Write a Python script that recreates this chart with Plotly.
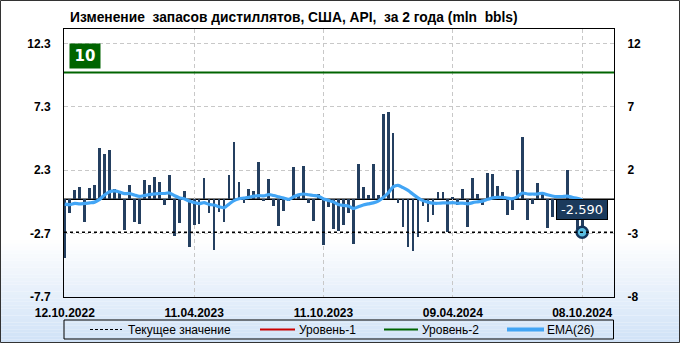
import plotly.graph_objects as go

# ---------------- data ----------------
tick_positions = [0, 26, 52, 78, 104]
tick_dates = ["12.10.2022", "11.04.2023", "11.10.2023", "09.04.2024", "08.10.2024"]

changes = [
    -4.6, -1.1, 0.7, 0.94, -1.8, 0.86, 1.17, 4.06, 3.6, 3.9,
    0.83, 0.47, -2.45, 1.17, -1.8, -1.98, 1.56, 1.17, 1.8, 1.4,
    -0.42, 1.95, -2.9, -1.88, 0.62, -3.78, -2.06, -1.98, 1.72, -1.04,
    -4.0, -0.96, -1.8, 1.9, 4.53, 1.4, -0.31, 0.78, 0.62, 2.97,
    -0.16, 1.64, -0.55, -2.14, -0.89, -0.16, 2.53, 0.39, 2.66, -0.31,
    -1.74, 0.39, -3.62, -0.62, -2.37, -2.53, -2.06, -1.04, -3.54, 2.81,
    0.94, 0.31, 2.81, 0.31, 6.72, 6.88, 5.23, -0.31, -2.21, -3.78,
    -4.09, -3.0, -0.55, -1.8, -1.2, 0.55, 0.55, -2.6, 0.16, -0.47,
    0.78, -2.21, 1.72, 0.39, -0.42, 2.11, 2.03, 1.02, 0.55, -1.2,
    -0.81, 2.34, 4.92, -1.59, -0.39, 1.25, 0.55, -2.29, -1.43, -0.47,
    -0.9, 2.34, -0.6, -2.3, -2.59,
]

ema26 = [
    -0.38, -0.42, -0.32, -0.36, -0.32, -0.28, -0.22, 0.0, 0.35, 0.6,
    0.66, 0.58, 0.45, 0.46, 0.34, 0.24, 0.3, 0.38, 0.42, 0.46,
    0.46, 0.5, 0.3, 0.12, 0.05, -0.14, -0.25, -0.34, -0.26, -0.4,
    -0.45, -0.58, -0.66, -0.38, -0.1, 0.05, 0.1, 0.16, 0.25, 0.3,
    0.27, 0.38, 0.3, 0.2, 0.1, 0.0, 0.2, 0.35, 0.42, 0.36,
    0.3, 0.24, 0.03, -0.08, -0.2, -0.4, -0.48, -0.52, -0.72, -0.58,
    -0.44, -0.36, -0.28, -0.14, 0.15, 0.5, 0.98, 1.1, 0.92, 0.7,
    0.4, 0.12, -0.1, -0.22, -0.3, -0.31, -0.28, -0.29, -0.26, -0.31,
    -0.3, -0.35, -0.26, -0.2, -0.14, 0.0, 0.12, 0.16, 0.16, 0.1,
    0.05, 0.22, 0.5, 0.42, 0.42, 0.42, 0.48, 0.36, 0.26, 0.21,
    0.22, 0.25, 0.16, 0.08, -0.03,
]

level2 = 10
left_ticks = [-7.7, -2.7, 2.3, 7.3, 12.3]
left_labels = ["-7.7", "-2.7", "2.3", "7.3", "12.3"]
right_labels = ["-8", "-3", "2", "7", "12"]

title_text = "Изменение  запасов дистиллятов, США, API,  за 2 года (mln  bbls)"
legend_names = ["Текущее значение", "Уровень-1", "Уровень-2", "EMA(26)"]

# ---------------- layout geometry ----------------
W, H = 680, 343
ML, MR, MT, MB = 64, 66, 29, 46
PW, PH = W - ML - MR, H - MT - MB


def px(x):
    return (x - ML) / PW


def py(y):
    return (H - MB - y) / PH


def bold(labels):
    return ["<b>" + s + "</b>" for s in labels]


x = list(range(len(changes)))
current = changes[-1]

BAR = "#243f60"
EMA_C = "#42a5f5"
GREEN = "#006400"
FONT = "Liberation Sans"

fig = go.Figure()

fig.add_trace(go.Bar(x=x, y=changes, width=0.55, marker=dict(color=BAR, line_width=0),
                     showlegend=False, hoverinfo="skip"))
fig.add_trace(go.Scatter(x=x, y=ema26, mode="lines",
                         line=dict(color=EMA_C, width=3.2, shape="spline", smoothing=0.8),
                         showlegend=False, hoverinfo="skip"))
fig.add_trace(go.Scatter(x=[x[-1]], y=[current], mode="markers",
                         marker=dict(size=11, color="#5bbde0",
                                     line=dict(color="#12355c", width=2.5)),
                         showlegend=False, hoverinfo="skip"))
# invisible trace for right axis
fig.add_trace(go.Scatter(x=[x[0]], y=[0], yaxis="y2", mode="markers",
                         marker=dict(opacity=0), showlegend=False, hoverinfo="skip"))

shapes = []
# background gradient (white -> light blue)
n = 30
y_start = 240
for k in range(n):
    y0 = y_start + (H - y_start) * k / n
    y1 = y_start + (H - y_start) * (k + 1) / n
    t = (k + 0.5) / n
    r = int(255 - (255 - 208) * t)
    g = int(255 - (255 - 226) * t)
    b = int(255 - (255 - 247) * t)
    shapes.append(dict(type="rect", xref="paper", yref="paper", layer="below",
                       x0=px(0), x1=px(W), y0=py(y1), y1=py(y0),
                       fillcolor=f"rgb({r},{g},{b})", line_width=0))
# outer frame
shapes.append(dict(type="rect", xref="paper", yref="paper", layer="above",
                   x0=px(0.5), x1=px(W - 0.5), y0=py(H - 0.5), y1=py(0.5),
                   line=dict(color="#333333", width=1)))
# zero line
shapes.append(dict(type="line", xref="paper", yref="y", x0=0, x1=1, y0=0, y1=0,
                   line=dict(color="black", width=1.5), layer="below"))
# current value dashed
shapes.append(dict(type="line", xref="paper", yref="y", x0=0, x1=1, y0=current, y1=current,
                   line=dict(color="black", width=1.5, dash="3px,3px")))
# level 2
shapes.append(dict(type="line", xref="paper", yref="y", x0=0, x1=1, y0=level2, y1=level2,
                   line=dict(color=GREEN, width=2)))

# legend box
LY0, LY1, LYC = 320, 339, 329.5
shapes.append(dict(type="rect", xref="paper", yref="paper",
                   x0=px(64), x1=px(613.5), y0=py(LY1), y1=py(LY0),
                   line=dict(color="black", width=1), fillcolor="rgba(0,0,0,0)"))
leg_items = [
    (90, 122, "black", 1, "3px,2px", 126),
    (260, 295, "#cc0000", 2, "solid", 297),
    (384, 418, GREEN, 2, "solid", 420),
    (507, 544, EMA_C, 4, "solid", 545),
]
annotations = []
for (a, b2, col, wd, ds, tx), name in zip(leg_items, legend_names):
    shapes.append(dict(type="line", xref="paper", yref="paper",
                       x0=px(a), x1=px(b2), y0=py(LYC), y1=py(LYC),
                       line=dict(color=col, width=wd, dash=ds)))
    annotations.append(dict(xref="paper", yref="paper", x=px(tx), y=py(LYC),
                            xanchor="left", yanchor="middle", showarrow=False,
                            text=name, font=dict(family=FONT, size=12, color="black")))

# title
annotations.append(dict(xref="paper", yref="paper", x=px(68), y=py(17),
                        xanchor="left", yanchor="middle", showarrow=False,
                        text="<b>" + title_text + "</b>",
                        font=dict(family=FONT, size=13.8, color="black")))
# level label
annotations.append(dict(xref="paper", yref="paper", x=px(69), y=py(43),
                        xanchor="left", yanchor="top", showarrow=False,
                        text="<b>%d</b>" % level2, bgcolor=GREEN, width=28, height=22,
                        font=dict(family="DejaVu Sans", size=15, color="white")))
# current value label
annotations.append(dict(xref="x", yref="y", x=x[-1], y=0,
                        xanchor="center", yanchor="top", showarrow=False,
                        text="%.3f" % current, bgcolor="#1b3a5c", bordercolor="black",
                        borderwidth=1, width=48, height=17,
                        font=dict(family="DejaVu Sans", size=13, color="white")))

axis_font = dict(family=FONT, size=12, color="black")
fig.update_layout(
    width=W, height=H,
    margin=dict(l=ML, r=MR, t=MT, b=MB),
    paper_bgcolor="white", plot_bgcolor="rgba(0,0,0,0)",
    showlegend=False,
    bargap=0,
    xaxis=dict(range=[-0.16, 110.4], tickvals=tick_positions, ticktext=bold(tick_dates),
               tickfont=axis_font, showgrid=True, gridcolor="#c8c8c8", griddash="4px,3px",
               gridwidth=1, zeroline=False, showline=True, linecolor="black", linewidth=1,
               mirror=True, ticks="outside", ticklen=5, tickcolor="rgba(0,0,0,0)"),
    yaxis=dict(range=[-7.7, 13.43], tickvals=left_ticks, ticktext=bold(left_labels),
               tickfont=axis_font, showgrid=True, gridcolor="#c8c8c8", griddash="4px,3px",
               gridwidth=1, zeroline=False, showline=True, linecolor="black", linewidth=1,
               mirror=True, ticks="outside", ticklen=10, tickcolor="rgba(0,0,0,0)"),
    yaxis2=dict(range=[-7.7, 13.43], tickvals=left_ticks, ticktext=bold(right_labels),
                overlaying="y", side="right", showgrid=False, zeroline=False,
                tickfont=axis_font, ticks="outside", ticklen=10, tickcolor="rgba(0,0,0,0)",
                showline=False),
    shapes=shapes,
    annotations=annotations,
)

fig.write_html("out.html")
